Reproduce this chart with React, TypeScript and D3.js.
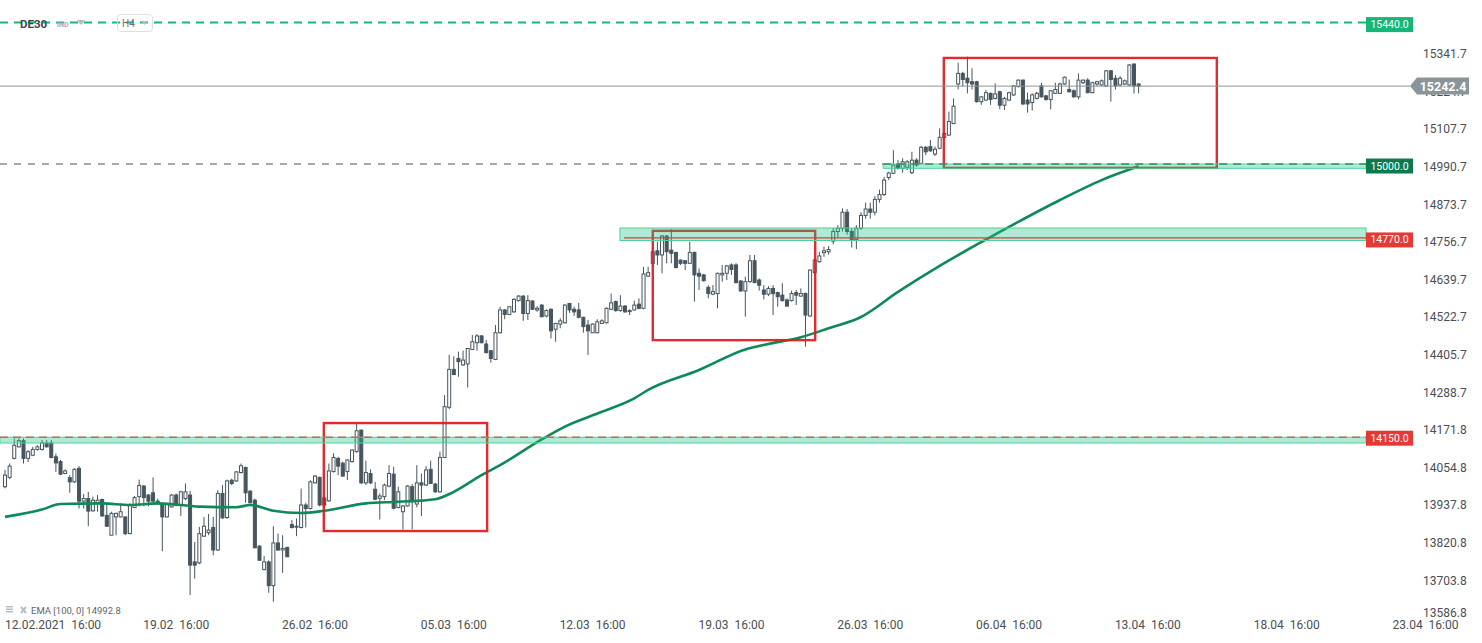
import React from "react";
import * as d3 from "d3";

type OHLC = [number, number, number, number]; // open, high, low, close

// 12.02 – 26.02
const candlesFeb: OHLC[] = [
  [13996,14048,13991,14032],[14025,14068,14020,14060],[14084,14146,14081,14125],[14120,14146,14118,14139],
  [14139,14146,14068,14084],[14084,14110,14073,14105],[14094,14120,14091,14112],[14112,14125,14108,14120],
  [14112,14141,14108,14132],[14132,14141,14118,14120],[14132,14141,14084,14087],[14089,14099,14042,14070],
  [14074,14079,14032,14035],[14037,14050,14035,14045],[14024,14032,13977,14011],[14011,14053,14008,14050],
  [14053,14060,13928,13951],[13951,13973,13928,13959],[13959,13980,13873,13920],[13921,13965,13918,13954],
  [13944,13970,13918,13954],[13956,13959,13902,13905],[13907,13944,13871,13873],[13845,13918,13845,13913],
  [13902,13915,13845,13913],[13902,13944,13900,13918],[13902,13902,13845,13850],[13850,13944,13848,13939],
  [13931,13967,13931,13962],[13965,14018,13935,14000],[13998,14001,13935,13962],[13970,13973,13935,13951],
  [13977,14025,13946,13951],[13951,13959,13939,13944],[13944,13944,13795,13902],[13902,13944,13900,13942],
  [13933,13973,13931,13970],[13970,13975,13935,13939],[13939,13983,13905,13980],[13959,14006,13954,13980],
  [13970,13983,13659,13752],[13762,13824,13710,13752],[13759,13871,13755,13850],[13842,13902,13840,13873],
  [13853,13911,13845,13861],[13869,13902,13783,13799],[13799,13985,13796,13975],[13975,14001,13896,13899],
  [13900,14018,13896,14014],[14016,14021,14001,14006],[14014,14045,14011,14042],[14040,14068,14037,14061],
  [14056,14058,13946,13977],[13982,13985,13944,13946],[13954,13959,13804,13806],[13811,13814,13767,13767],
  [13738,13780,13736,13762],[13762,13767,13666,13688],[13688,13873,13638,13821],[13821,13850,13796,13799],
  [13799,13845,13728,13804],[13807,13809,13778,13778],[13878,13892,13866,13869],[13871,13897,13842,13873],
  [13869,13990,13866,13939],[13939,13946,13869,13928],[13928,14016,13925,14011],[14008,14032,14006,14029],
  [14025,14027,13935,13939],[13961,13965,13935,13939],[13952,14068,13949,14045],
];

// 01.03 – 05.03
const candlesMar1: OHLC[] = [
  [14043,14100,14040,14087],[14084,14089,14032,14060],[14069,14074,14027,14029],[14043,14081,14017,14079],
  [14074,14112,14071,14110],[14105,14191,14102,14170],[14172,14174,14004,14008],[14008,14077,14001,14040],
  [14037,14050,14004,14008],[13988,14011,13954,13957],[13960,13975,13894,13967],[13965,14006,13954,14001],
  [13998,14063,13994,14037],[14035,14058,13925,13929],[13931,13996,13929,13980],[13918,13939,13863,13936],
  [13936,14001,13934,13998],[13996,14004,13863,13949],[13942,14063,13932,14008],[14008,14037,13905,14001],
  [14001,14060,13998,14048],[14050,14077,14004,14006],[14004,14008,13977,13980],[13980,14105,13977,14087],
  [14087,14281,14085,14245],
];

// 08.03 – 12.03
const candlesMar2: OHLC[] = [
  [14243,14406,14237,14361],[14361,14402,14343,14345],[14395,14416,14338,14385],[14375,14419,14372,14390],
  [14378,14426,14305,14426],[14423,14468,14421,14447],[14444,14471,14419,14465],[14465,14468,14442,14444],
  [14440,14452,14411,14413],[14419,14421,14382,14395],[14392,14499,14390,14475],[14475,14556,14473,14546],
  [14546,14548,14517,14532],[14532,14558,14530,14556],[14540,14582,14537,14579],[14575,14592,14572,14589],
  [14589,14592,14512,14535],[14535,14592,14515,14575],[14574,14575,14546,14548],[14546,14558,14540,14551],
  [14561,14564,14523,14525],[14527,14548,14523,14544],[14548,14551,14457,14481],[14486,14506,14447,14504],
  [14502,14520,14489,14512],[14506,14564,14504,14561],[14566,14568,14537,14546],[14548,14556,14527,14540],
  [14546,14568,14520,14523],[14523,14525,14475,14494],[14499,14515,14406,14481],[14475,14504,14475,14502],
  [14475,14517,14473,14509],[14504,14517,14502,14512],[14506,14554,14504,14551],[14548,14597,14546,14568],
  [14572,14575,14540,14544],[14544,14592,14540,14558],[14558,14561,14537,14540],[14543,14548,14530,14544],
  [14546,14575,14544,14561],[14564,14582,14548,14551],
];

// 15.03 – 23.03
const candlesMar3: OHLC[] = [
  [14551,14680,14548,14658],[14651,14680,14649,14662],[14691,14732,14686,14727],[14730,14758,14686,14717],
  [14717,14779,14660,14776],[14776,14779,14691,14727],[14732,14797,14691,14722],[14725,14727,14675,14678],
  [14701,14703,14686,14691],[14699,14701,14670,14691],[14691,14758,14689,14725],[14725,14727,14572,14655],
  [14660,14675,14608,14651],[14655,14658,14634,14637],[14616,14623,14582,14597],[14595,14623,14592,14603],
  [14597,14662,14551,14660],[14655,14686,14634,14660],[14660,14686,14639,14683],[14686,14691,14655,14672],
  [14686,14691,14629,14631],[14636,14639,14603,14605],[14605,14649,14525,14634],[14634,14717,14631,14699],
  [14699,14717,14629,14631],[14639,14644,14606,14623],[14608,14623,14579,14595],[14595,14620,14589,14613],
  [14613,14623,14530,14597],[14600,14603,14556,14587],[14592,14629,14572,14575],[14577,14582,14556,14558],
  [14575,14606,14572,14597],[14600,14608,14561,14592],[14589,14613,14587,14597],[14597,14600,14432,14530],
  [14527,14672,14525,14670],[14662,14703,14660,14701],[14696,14727,14693,14714],[14724,14743,14711,14730],
  [14727,14745,14718,14734],
];

// 26.03 – 31.03
const candlesMar4: OHLC[] = [
  [14760,14800,14750,14790],[14790,14810,14770,14800],[14800,14862,14790,14850],[14850,14860,14780,14790],
  [14790,14800,14740,14765],[14765,14810,14735,14800],[14800,14850,14795,14840],[14840,14880,14830,14860],
  [14860,14880,14830,14850],[14850,14900,14840,14890],[14890,14920,14880,14905],[14905,14960,14900,14950],
];

// 31.03 – 13.04
const candlesApr: OHLC[] = [
  [14958,14976,14950,14972],[14971,15043,14969,14997],[15000,15012,14983,14986],[14986,15018,14973,15007],
  [14990,15012,14981,15007],[14973,15038,14969,15012],[15012,15018,14992,14997],[15002,15056,15000,15052],
  [15052,15056,15028,15038],[15054,15075,15038,15041],[15031,15054,15025,15046],[15049,15111,15046,15083],
  [15083,15101,15080,15095],[15090,15163,15087,15132],[15126,15204,15124,15180],[15249,15315,15232,15282],
  [15282,15287,15241,15263],[15267,15334,15220,15253],[15256,15298,15232,15249],[15256,15259,15191,15194],
  [15194,15212,15184,15209],[15199,15230,15197,15222],[15220,15222,15184,15201],[15204,15251,15201,15218],
  [15225,15228,15170,15183],[15183,15209,15168,15204],[15199,15225,15197,15222],[15215,15246,15212,15243],
  [15241,15263,15238,15261],[15261,15263,15183,15187],[15199,15222,15160,15187],[15191,15220,15166,15215],
  [15204,15225,15201,15220],[15243,15253,15207,15209],[15212,15215,15197,15201],[15201,15230,15170,15228],
  [15220,15253,15218,15232],[15220,15253,15218,15249],[15249,15272,15246,15270],[15232,15263,15222,15225],
  [15228,15232,15207,15209],[15209,15282,15201,15261],[15253,15263,15249,15261],[15261,15267,15220,15222],
  [15222,15256,15220,15253],[15249,15259,15243,15256],[15246,15263,15243,15259],[15243,15292,15241,15290],
  [15290,15292,15194,15263],[15267,15277,15232,15243],[15246,15274,15243,15267],[15249,15263,15246,15259],
  [15246,15311,15243,15308],[15311,15313,15220,15243],[15249,15251,15220,15242.4],
];

const candles: OHLC[] = [...candlesFeb, ...candlesMar1, ...candlesMar2, ...candlesMar3, ...candlesMar4, ...candlesApr];

// EMA(100): candle index -> value
const emaIndex = [0, 8, 12, 21, 27, 33, 42, 50, 53, 58, 64, 69, 78, 85, 93, 97, 103, 107, 116, 121, 129, 136, 139, 150, 160, 165, 172, 178, 185, 193, 202, 211, 219, 228, 237, 245];
const emaValue = [13902, 13925, 13942, 13944, 13939, 13944, 13934, 13932, 13939, 13921, 13914, 13921, 13944, 13949, 13957, 13980, 14032, 14063, 14143, 14183, 14229, 14271, 14297, 14359, 14423, 14440, 14461, 14489, 14524, 14602, 14683, 14757, 14820, 14888, 14950, 14992.8];

const priceTicks = [15341.7, 15224.7, 15107.7, 14990.7, 14873.7, 14756.7, 14639.7, 14522.7, 14405.7, 14288.7, 14171.8, 14054.8, 13937.8, 13820.8, 13703.8, 13586.8];
const dateTickIndex = [7, 37, 67, 97, 127, 157, 187, 217, 247, 277, 307];
const dateTickLabels = ["12.02.2021\u00a0\u00a016:00", "19.02\u00a0\u00a016:00", "26.02\u00a0\u00a016:00", "05.03\u00a0\u00a016:00", "12.03\u00a0\u00a016:00", "19.03\u00a0\u00a016:00", "26.03\u00a0\u00a016:00", "06.04\u00a0\u00a016:00", "13.04\u00a0\u00a016:00", "18.04\u00a0\u00a016:00", "23.04\u00a0\u00a016:00"];

// horizontal levels
const levelPrices = [15440, 15000, 14770, 14150];
const levelLabels = ["15440.0", "15000.0", "14770.0", "14150.0"];
const lastPrice = 15242.4;
const emaLast = 14992.8;

// zones [low, high, startIndex]
const zoneLow = [14132, 14762, 14986.6];
const zoneHigh = [14150, 14801, 15000];
const zoneStart = [-1.2, 132.9, 189.8];

// red annotation boxes
const boxStart = [68.9, 140.0, 202.9];
const boxEnd = [104.2, 175.1, 261.9];
const boxHigh = [14194, 14792, 15330];
const boxLow = [13858, 14452, 14988];

export default function App() {
  const W = 1482, H = 643;
  const x = d3.scaleLinear().domain([0, 307]).range([5, 5 + 307 * 4.627]);
  const y = d3.scaleLinear().domain([13586.8, 15341.7]).range([618.2, 54.2]);
  const plotRight = 1366;
  const font = "Roboto, 'Noto Sans', Arial, sans-serif";
  const candleCol = "#46555e";
  const axisCol = "#4a4f54";

  const emaPath = d3.line<number>()
    .x((_, k) => x(emaIndex[k]))
    .y((v) => y(v))
    .curve(d3.curveMonotoneX)(emaValue) || "";

  const zoneFill = "#1cbf80";
  const levelColors = ["#14b679", "#0b7b4f", "#e53935", "#e53935"];

  const lastY = y(lastPrice);

  return (
    <div style={{ position: "absolute", left: 0, top: 0 }}>
      <svg width={W} height={H} style={{ display: "block", fontFamily: font }}>
        <rect x={0} y={0} width={W} height={H} fill="#ffffff" />

        {/* candles */}
        <g>
          {candles.map((c, i) => {
            const [o, h, l, cl] = c;
            const cx = x(i);
            const bull = cl >= o;
            const top = y(Math.max(o, cl));
            const bot = y(Math.min(o, cl));
            return (
              <g key={i}>
                <line x1={cx} x2={cx} y1={y(h)} y2={y(l)} stroke={candleCol} strokeWidth={1} />
                <rect x={cx - 1.5} y={top} width={3} height={Math.max(1, bot - top)}
                  fill={bull ? "#ffffff" : candleCol} stroke={candleCol} strokeWidth={1} />
              </g>
            );
          })}
        </g>

        {/* EMA */}
        <path d={emaPath} fill="none" stroke="#0d8a58" strokeWidth={2.6} strokeLinejoin="round" />

        {/* red boxes */}
        {boxStart.map((s, k) => (
          <rect key={"b" + k} x={x(s)} y={y(boxHigh[k])} width={x(boxEnd[k]) - x(s)} height={y(boxLow[k]) - y(boxHigh[k])}
            fill="none" stroke="#e0191c" strokeWidth={2.4} strokeOpacity={0.92} />
        ))}

        {/* zones */}
        {zoneLow.map((lo, k) => (
          <rect key={"z" + k} x={Math.max(0, x(zoneStart[k]))} y={y(zoneHigh[k])} width={plotRight - Math.max(0, x(zoneStart[k]))}
            height={y(lo) - y(zoneHigh[k])} fill={zoneFill} fillOpacity={0.34} stroke="#4fd39d" strokeWidth={1} />
        ))}

        {/* last price line */}
        <line x1={0} x2={1410} y1={lastY} y2={lastY} stroke="#8b9599" strokeWidth={1} />

        {/* 15440 dashed */}
        <line x1={0} x2={plotRight} y1={y(levelPrices[0])} y2={y(levelPrices[0])} stroke="#17b77a" strokeWidth={2} strokeDasharray="8,6" />
        {/* 15000 dashed: gray before zone, green inside */}
        <line x1={0} x2={x(zoneStart[2])} y1={y(levelPrices[1])} y2={y(levelPrices[1])} stroke="#4d5357" strokeWidth={1} strokeDasharray="7,7" />
        <line x1={x(zoneStart[2])} x2={plotRight} y1={y(levelPrices[1])} y2={y(levelPrices[1])} stroke="#2f8f62" strokeWidth={1.5} strokeDasharray="8,6" />
        {/* 14770 solid red */}
        <line x1={x(zoneStart[1]) + 4} x2={plotRight} y1={y(levelPrices[2])} y2={y(levelPrices[2])} stroke="#e53935" strokeWidth={1.2} />
        {/* 14150 dashed red */}
        <line x1={0} x2={plotRight} y1={y(levelPrices[3])} y2={y(levelPrices[3])} stroke="#e25a55" strokeWidth={1.4} strokeDasharray="8,5" />

        {/* price axis ticks */}
        {priceTicks.map((p) => (
          <text key={p} x={1423} y={Math.min(y(p), 612.5)} dominantBaseline="central" fontSize={12} fill={axisCol}>
            {p.toFixed(1)}
          </text>
        ))}

        {/* level labels */}
        {levelPrices.map((p, k) => {
          const cy = y(p) + (k === 3 ? 1 : 2);
          return (
            <g key={"l" + k}>
              <rect x={plotRight} y={cy - 7.5} width={47} height={15} fill={levelColors[k]} />
              <text x={plotRight + 23.5} y={cy} textAnchor="middle" dominantBaseline="central" fontSize={10.5} fill="#ffffff">
                {levelLabels[k]}
              </text>
            </g>
          );
        })}

        {/* last price label */}
        <path d={`M1410,${lastY} L1417,${lastY - 8.5} L1469,${lastY - 8.5} L1469,${lastY + 8.5} L1417,${lastY + 8.5} Z`} fill="#8b9599" />
        <text x={1443} y={lastY + 0.5} textAnchor="middle" dominantBaseline="central" fontSize={12.5} fontWeight={700} fill="#ffffff">
          {lastPrice.toFixed(1)}
        </text>

        {/* date axis */}
        {dateTickIndex.map((t, k) => (
          <text key={"d" + k} x={k === 0 ? 5 : x(t)} y={625} textAnchor={k === 0 ? "start" : "middle"} dominantBaseline="central"
            fontSize={12} fill={axisCol}>
            {dateTickLabels[k]}
          </text>
        ))}

        {/* header */}
        <text x={20} y={24} dominantBaseline="central" fontSize={11.5} fontWeight={700} fill="#3a4650">DE30</text>
        <text x={57} y={24.5} dominantBaseline="central" fontSize={7} fontWeight={700} fill="#a4adb3">IND</text>
        <path d="M77,20 L85,20 L81,25 Z" fill="#b5bcc0" />
        <rect x={117.5} y={14.5} width={35} height={17} rx={3} fill="none" stroke="#dcdfe1" />
        <text x={122} y={23.5} dominantBaseline="central" fontSize={10} fill="#6b7378">H4</text>
        <path d="M141,21 L148,21 L144.5,25 Z" fill="#b5bcc0" />

        {/* EMA legend */}
        <g fill="#b8bfc3">
          <rect x={6} y={606} width={7} height={1.5} />
          <rect x={6} y={608.5} width={7} height={1.5} />
          <rect x={6} y={611} width={7} height={1.5} />
        </g>
        <path d="M21,607 L26,613 M26,607 L21,613" stroke="#b8bfc3" strokeWidth={2} />
        <text x={31} y={610.5} dominantBaseline="central" fontSize={9.5} fill="#5e656a">
          {`EMA [100, 0] ${emaLast.toFixed(1)}`}
        </text>
      </svg>
    </div>
  );
}
